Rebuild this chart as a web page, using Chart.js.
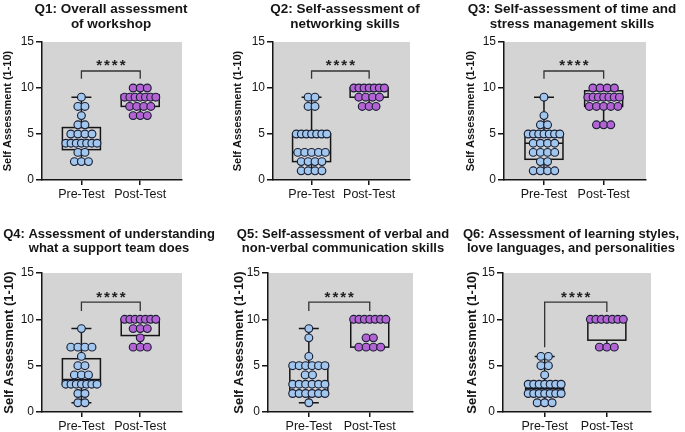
<!DOCTYPE html>
<html lang="en">
<head>
<meta charset="UTF-8">
<title>Self Assessment Pre/Post</title>
<script src="https://cdn.jsdelivr.net/npm/chart.js"></script>
<style>
    body { margin: 0; background: #fff; }
    #wrap { position: relative; width: 685px; height: 432px; }
    #wrap canvas { position: absolute; }
</style>
</head>
<body>
<div id="wrap"></div>
<script>
    // ---- data ----
    const groups = ['Pre-Test', 'Post-Test'];
    const titles = [
        ['Q1: Overall assessment', 'of workshop'],
        ['Q2: Self-assessment of', 'networking skills'],
        ['Q3: Self-assessment of time and', 'stress management skills'],
        ['Q4: Assessment of understanding', 'what a support team does'],
        ['Q5: Self-assessment of verbal and', 'non-verbal communication skills'],
        ['Q6: Assessment of learning styles,', 'love languages, and personalities']
    ];
    const yTitle = 'Self Assessment (1-10)';
    const yTicks = [0, 5, 10, 15];
    const scores = [1, 2, 3, 4, 5, 6, 7, 8, 9, 10];

    // number of respondents at each score 1..10
    const preCounts = [
        [0, 3, 2, 7, 4, 2, 1, 2, 1, 0],
        [4, 4, 5, 0, 7, 0, 0, 2, 2, 0],
        [4, 2, 4, 4, 7, 2, 1, 0, 1, 0],
        [2, 2, 7, 3, 2, 1, 4, 0, 1, 0],
        [1, 6, 6, 2, 6, 1, 0, 1, 1, 0],
        [3, 7, 7, 1, 2, 2, 0, 0, 0, 0]
    ];
    const postCounts = [
        [0, 0, 0, 0, 0, 0, 3, 4, 7, 3],
        [0, 0, 0, 0, 0, 0, 0, 3, 4, 7],
        [0, 0, 0, 0, 0, 3, 0, 5, 7, 4],
        [0, 0, 0, 0, 0, 0, 3, 1, 3, 7],
        [0, 0, 0, 0, 0, 0, 4, 2, 0, 7],
        [0, 0, 0, 0, 0, 0, 3, 0, 0, 7]
    ];

    // box plots: [min, q1, median, q3, max]
    const preBox = [
        [2, 3.3, 4, 5.7, 9],
        [1, 2, 3, 5, 9],
        [1, 2.25, 4, 5, 9],
        [1, 3, 3.5, 5.75, 9],
        [1, 2, 3, 5.25, 9],
        [1, 2, 2.5, 3.25, 6]
    ];
    const postBox = [
        [7, 8, 9, 9.25, 10],
        [8, 9, 10, 10, 10],
        [6, 8, 8.75, 9.7, 10],
        [7, 8.25, 10, 10, 10],
        [7, 7, 10, 10, 10],
        [7, 7.75, 10, 10, 10]
    ];

    const significance = '****';
    const bracketY = 11.85;
    const legEnds = [[11, 11], [11, 11], [11, 11], [10.9, 10.9], [10.9, 10.9], [7, 10.8]];

    // ---- layout of the six panels (pixels) ----
    const panels = [
        { left: 0,   top: 0,   w: 228, h: 215, ca: [42, 182, 42, 180], tx: 111, ty: [13, 27.5], ts: 13.5, ys: 11, yp: 1.4 },
        { left: 228, top: 0,   w: 228, h: 215, ca: [45, 182, 42, 180], tx: 117, ty: [13, 27.5], ts: 13.5, ys: 11, yp: 3.4 },
        { left: 456, top: 0,   w: 229, h: 215, ca: [48, 190, 42, 180], tx: 116, ty: [13, 27.5], ts: 13.5, ys: 11, yp: 8.4 },
        { left: 0,   top: 215, w: 228, h: 217, ca: [42, 182, 58, 197], tx: 109, ty: [23, 37],   ts: 13,   ys: 13, yp: 1.2 },
        { left: 228, top: 215, w: 228, h: 217, ca: [40, 185, 58, 197], tx: 115, ty: [23, 37],   ts: 13,   ys: 13, yp: 3.2 },
        { left: 456, top: 215, w: 229, h: 217, ca: [47, 195, 58, 197], tx: 115, ty: [23, 37],   ts: 13,   ys: 13, yp: 8.2 }
    ];

    const FONT = '"Liberation Sans", Arial, sans-serif';
    const INK = '#151515';
    Chart.defaults.font.family = FONT;

    // spread dots of equal score side by side
    function swarm(counts, center) {
        const pts = [];
        counts.forEach((n, k) => {
            const step = n > 1 ? Math.min(0.12, 0.53 / (n - 1)) : 0;
            for (let j = 0; j < n; j++) {
                pts.push({ x: center + (j - (n - 1) / 2) * step, y: scores[k] });
            }
        });
        return pts;
    }

    function panelPlugin(i, p) {
        return {
            id: 'panel' + i,
            beforeDraw(chart) {
                const a = chart.chartArea, ctx = chart.ctx;
                ctx.save();
                ctx.fillStyle = '#d4d4d4';
                ctx.fillRect(a.left, a.top, a.right - a.left, a.bottom - a.top);
                ctx.restore();
            },
            beforeDatasetsDraw(chart) {
                const ctx = chart.ctx, xs = chart.scales.x, ys = chart.scales.y;
                ctx.save();
                ctx.strokeStyle = INK;
                ctx.lineWidth = 1.5;
                [preBox[i], postBox[i]].forEach((b, g) => {
                    const cx = xs.getPixelForValue(g);
                    const hw = 19, cap = 10;
                    const [mn, q1, md, q3, mx] = b.map(v => ys.getPixelForValue(v));
                    ctx.strokeRect(cx - hw, q3, hw * 2, q1 - q3);
                    ctx.beginPath();
                    ctx.moveTo(cx - hw, md); ctx.lineTo(cx + hw, md);
                    ctx.moveTo(cx, q3); ctx.lineTo(cx, mx);
                    ctx.moveTo(cx, q1); ctx.lineTo(cx, mn);
                    ctx.moveTo(cx - cap, mx); ctx.lineTo(cx + cap, mx);
                    ctx.moveTo(cx - cap, mn); ctx.lineTo(cx + cap, mn);
                    ctx.stroke();
                });
                ctx.restore();
            },
            afterDraw(chart) {
                const ctx = chart.ctx, xs = chart.scales.x, ys = chart.scales.y;
                const x0 = xs.getPixelForValue(0), x1 = xs.getPixelForValue(1);
                const yb = ys.getPixelForValue(bracketY);
                ctx.save();
                ctx.strokeStyle = '#333';
                ctx.lineWidth = 1.3;
                ctx.beginPath();
                ctx.moveTo(x0, ys.getPixelForValue(legEnds[i][0]));
                ctx.lineTo(x0, yb);
                ctx.lineTo(x1, yb);
                ctx.lineTo(x1, ys.getPixelForValue(legEnds[i][1]));
                ctx.stroke();

                ctx.fillStyle = '#222';
                ctx.font = 'bold 15px ' + FONT;
                ctx.textAlign = 'center';
                ctx.textBaseline = 'alphabetic';
                ctx.letterSpacing = '2px';
                ctx.fillText(significance, (x0 + x1) / 2 + 1, yb - 0.5);
                ctx.letterSpacing = '0px';

                ctx.fillStyle = INK;
                ctx.font = 'bold ' + p.ts + 'px ' + FONT;
                titles[i].forEach((t, k) => ctx.fillText(t, p.tx, p.ty[k]));
                ctx.restore();
            }
        };
    }

    const wrap = document.getElementById('wrap');
    panels.forEach((p, i) => {
        const cv = document.createElement('canvas');
        cv.width = p.w;
        cv.height = p.h;
        cv.style.left = p.left + 'px';
        cv.style.top = p.top + 'px';
        cv.style.width = p.w + 'px';
        cv.style.height = p.h + 'px';
        wrap.appendChild(cv);

        const dotStyle = {
            pointRadius: 3.9,
            pointBorderWidth: 1.15,
            pointBorderColor: '#1a1f33',
            pointHoverRadius: 3.9
        };

        new Chart(cv, {
            type: 'scatter',
            data: {
                datasets: [
                    Object.assign({ data: swarm(preCounts[i], 0), pointBackgroundColor: '#a2c7ef' }, dotStyle),
                    Object.assign({ data: swarm(postCounts[i], 1), pointBackgroundColor: '#b363d3' }, dotStyle)
                ]
            },
            options: {
                responsive: false,
                animation: false,
                events: [],
                layout: { padding: { left: 0, right: p.w - p.ca[1], top: p.ca[2], bottom: 0 } },
                plugins: {
                    legend: { display: false },
                    tooltip: { enabled: false },
                    title: { display: false }
                },
                scales: {
                    x: {
                        type: 'linear',
                        min: -0.67,
                        max: 1.71,
                        afterFit: s => { s.height = p.h - p.ca[3]; },
                        afterBuildTicks: s => { s.ticks = groups.map((g, k) => ({ value: k })); },
                        ticks: {
                            callback: v => groups[v] || '',
                            autoSkip: false,
                            maxRotation: 0,
                            padding: 2,
                            color: INK,
                            font: { size: 12.5 }
                        },
                        grid: { drawOnChartArea: false, color: INK, lineWidth: 1.5, tickLength: 5 },
                        border: { color: INK, width: 1.5 }
                    },
                    y: {
                        min: 0,
                        max: 15,
                        afterFit: s => { s.width = p.ca[0]; },
                        afterBuildTicks: s => { s.ticks = yTicks.map(v => ({ value: v })); },
                        ticks: { padding: 2, color: INK, font: { size: 12 } },
                        grid: { drawOnChartArea: false, color: INK, lineWidth: 1.5, tickLength: 6 },
                        border: { color: INK, width: 1.5 },
                        title: {
                            display: true,
                            text: yTitle,
                            color: INK,
                            font: { size: p.ys, weight: 'bold' },
                            padding: { top: p.yp, bottom: 0 }
                        }
                    }
                }
            },
            plugins: [panelPlugin(i, p)]
        });
    });
</script>
</body>
</html>
